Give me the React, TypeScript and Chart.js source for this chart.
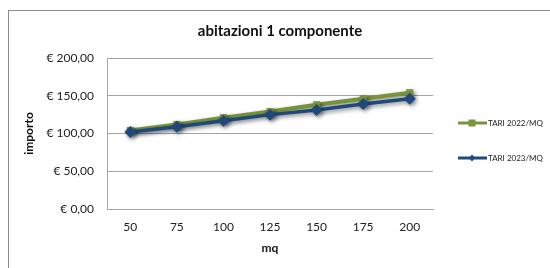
import React, { useEffect, useRef } from "react";
import { Chart, registerables } from "chart.js";

Chart.register(...registerables);

const categories = ["50", "75", "100", "125", "150", "175", "200"];
const tari2022 = [104, 112, 121, 129, 138, 146, 154];
const tari2023 = [102, 109, 117, 125, 131, 139, 146];
const yTicks = [0, 50, 100, 150, 200];
const chartTitle = "abitazioni 1 componente";
const xTitle = "mq";
const yTitle = "importo";
const label2022 = "TARI 2022/MQ";
const label2023 = "TARI 2023/MQ";

const GREEN = "#77933C";
const BLUE = "#1F497D";
const FONT = "Lato, 'Open Sans', sans-serif";

const fmt = (v: number) => "€ " + v.toFixed(2).replace(".", ",");

const decorPlugin = {
  id: "decor",
  beforeDraw(chart: any) {
    const ctx = chart.ctx;
    ctx.save();
    ctx.fillStyle = "#ffffff";
    ctx.fillRect(0, 0, chart.width, chart.height);
    ctx.strokeStyle = "#8c8c8c";
    ctx.lineWidth = 1;
    ctx.strokeRect(8.5, 10.5, chart.width + 10, chart.height + 10);
    ctx.restore();
  },
  beforeDatasetsDraw(chart: any) {
    const ctx = chart.ctx;
    ctx.save();
    ctx.shadowColor = "rgba(0,0,0,0.45)";
    ctx.shadowBlur = 4;
    ctx.shadowOffsetX = 2;
    ctx.shadowOffsetY = 2;
  },
  afterDatasetsDraw(chart: any) {
    chart.ctx.restore();
  },
  afterDraw(chart: any) {
    const ctx = chart.ctx;
    const area = chart.chartArea;
    ctx.save();
    ctx.fillStyle = "#111";
    ctx.textAlign = "center";
    ctx.textBaseline = "middle";
    ctx.font = `bold 15px ${FONT}`;
    ctx.fillText(chartTitle, 280, 31);
    ctx.font = `bold 12px ${FONT}`;
    ctx.fillText(xTitle, (area.left + area.right) / 2, 248);
    ctx.save();
    ctx.translate(29, (area.top + area.bottom) / 2);
    ctx.rotate(-Math.PI / 2);
    ctx.fillText(yTitle, 0, 0);
    ctx.restore();

    // legend
    const items = [
      { label: label2022, color: GREEN, y: 123, style: "rect" },
      { label: label2023, color: BLUE, y: 158, style: "diamond" },
    ];
    for (const it of items) {
      ctx.strokeStyle = it.color;
      ctx.lineWidth = 3;
      ctx.beginPath();
      ctx.moveTo(458, it.y);
      ctx.lineTo(487, it.y);
      ctx.stroke();
      ctx.fillStyle = it.color;
      const cx = 472;
      if (it.style === "rect") {
        ctx.fillRect(cx - 3.5, it.y - 3.5, 7, 7);
      } else {
        ctx.beginPath();
        ctx.moveTo(cx, it.y - 3.5);
        ctx.lineTo(cx + 3, it.y);
        ctx.lineTo(cx, it.y + 3.5);
        ctx.lineTo(cx - 3, it.y);
        ctx.closePath();
        ctx.fill();
      }
      ctx.fillStyle = "#222";
      ctx.textAlign = "left";
      ctx.font = `8px ${FONT}`;
      ctx.fillText(it.label, 488, it.y + 0.5);
    }
    ctx.restore();
  },
};

export default function App() {
  const ref = useRef<HTMLCanvasElement | null>(null);
  useEffect(() => {
    if (!ref.current) return;
    const chart = new Chart(ref.current, {
      type: "line",
      data: {
        labels: categories,
        datasets: [
          {
            label: label2022,
            data: tari2022,
            borderColor: GREEN,
            backgroundColor: GREEN,
            borderWidth: 4,
            pointStyle: "rect",
            pointRadius: 5,
            pointBorderWidth: 0,
            order: 2,
          },
          {
            label: label2023,
            data: tari2023,
            borderColor: BLUE,
            backgroundColor: BLUE,
            borderWidth: 3.5,
            pointStyle: "rectRot",
            pointRadius: 6,
            pointBorderWidth: 0,
            order: 1,
          },
        ],
      },
      options: {
        animation: false,
        responsive: false,
        devicePixelRatio: 1,
        layout: { padding: { top: 58, right: 117, left: 0, bottom: 0 } },
        plugins: {
          legend: { display: false },
          title: { display: false },
          tooltip: { enabled: false },
        },
        scales: {
          x: {
            type: "category",
            offset: true,
            grid: { display: false, drawTicks: false },
            border: { display: true, color: "#a6a6a6", width: 1 },
            ticks: {
              padding: 11,
              color: "#222",
              font: { family: FONT, size: 12 },
              maxRotation: 0,
            },
            afterFit: (s: any) => {
              s.height = 59;
            },
          },
          y: {
            min: 0,
            max: 200,
            afterBuildTicks: (s: any) => {
              s.ticks = yTicks.map((v) => ({ value: v }));
            },
            grid: { color: "#a6a6a6", drawTicks: false, lineWidth: 1 },
            border: { display: true, color: "#a6a6a6", width: 1 },
            ticks: {
              padding: 13,
              color: "#222",
              font: { family: FONT, size: 12 },
              callback: (v: any) => fmt(Number(v)),
            },
            afterFit: (s: any) => {
              s.width = 107;
            },
          },
        },
      },
      plugins: [decorPlugin],
    });
    return () => chart.destroy();
  }, []);
  return (
    <div style={{ position: "fixed", left: 0, top: 0, width: 550, height: 268 }}>
      <canvas ref={ref} width={550} height={268} style={{ display: "block" }} />
    </div>
  );
}
